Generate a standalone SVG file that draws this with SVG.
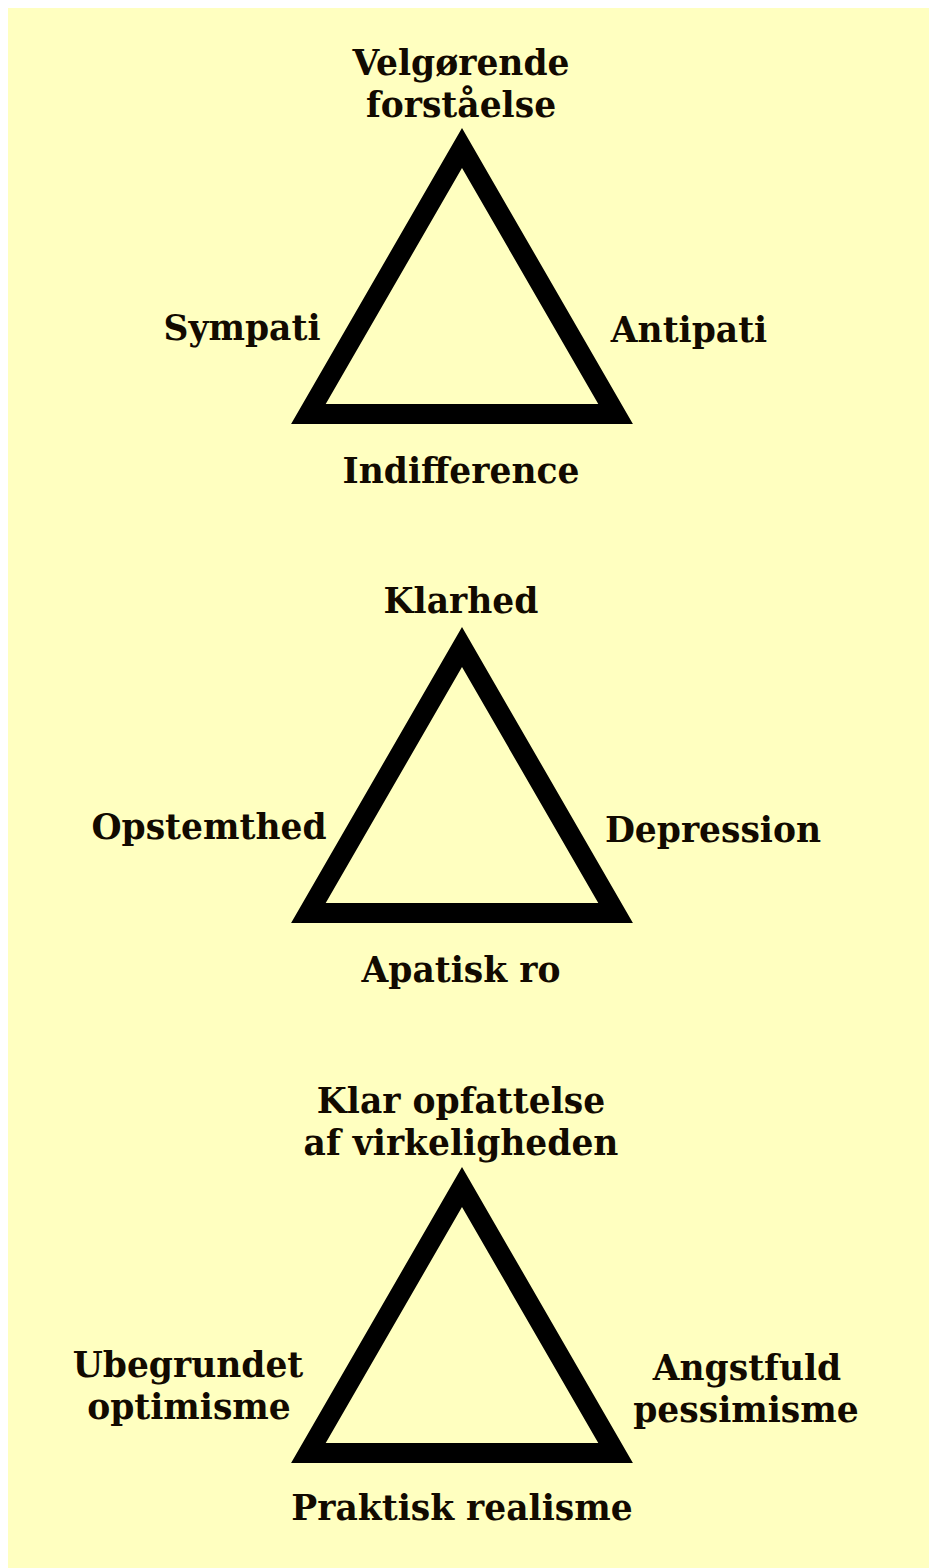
<svg xmlns="http://www.w3.org/2000/svg" width="929" height="1568" viewBox="0 0 929 1568">
<style>
.bg{fill:#ffffc0}
.tri{fill:none;stroke:#000;stroke-width:20;stroke-linejoin:miter;stroke-miterlimit:10}
.lbl{font-family:"DejaVu Serif","Liberation Serif",serif;font-weight:bold;font-size:34.5px;fill:#120a00;text-anchor:middle}
</style>
<rect x="0" y="0" width="929" height="1568" fill="#ffffff"/>
<rect class="bg" x="8" y="8" width="921" height="1560"/>
<g id="connectors">
<polygon id="tri1" class="tri" points="462,148 615.6,414 308.4,414"/>
<polygon id="tri2" class="tri" points="462,647 615.6,913 308.4,913"/>
<polygon id="tri3" class="tri" points="462,1187 615.6,1453 308.4,1453"/>
</g>
<g id="n-velgorende"><text class="lbl" x="461" y="75">Velgørende</text><text class="lbl" x="461" y="117">forståelse</text></g>
<g id="n-sympati"><text class="lbl" x="242" y="340">Sympati</text></g>
<g id="n-antipati"><text class="lbl" x="689" y="342">Antipati</text></g>
<g id="n-indifference"><text class="lbl" x="461" y="483">Indifference</text></g>
<g id="n-klarhed"><text class="lbl" x="461" y="613">Klarhed</text></g>
<g id="n-opstemthed"><text class="lbl" x="209" y="839">Opstemthed</text></g>
<g id="n-depression"><text class="lbl" x="713" y="842">Depression</text></g>
<g id="n-apatisk"><text class="lbl" x="461" y="982">Apatisk ro</text></g>
<g id="n-klar"><text class="lbl" x="461" y="1113">Klar opfattelse</text><text class="lbl" x="461" y="1155">af virkeligheden</text></g>
<g id="n-ubegrundet"><text class="lbl" x="188" y="1377">Ubegrundet</text><text class="lbl" x="189" y="1419">optimisme</text></g>
<g id="n-angstfuld"><text class="lbl" x="747" y="1380">Angstfuld</text><text class="lbl" x="746" y="1422">pessimisme</text></g>
<g id="n-praktisk"><text class="lbl" x="462" y="1520">Praktisk realisme</text></g>
</svg>
